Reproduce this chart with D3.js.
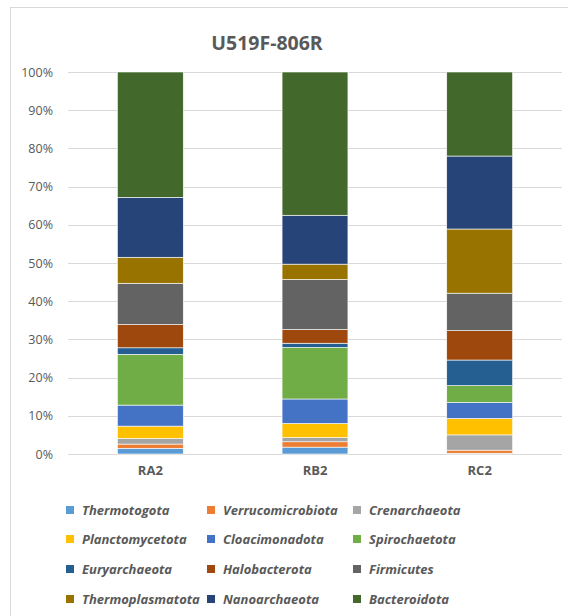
<!DOCTYPE html>
<html>
<head>
<meta charset="utf-8">
<script src="https://cdn.jsdelivr.net/npm/d3@7"></script>
<style>
  body { margin: 0; background: #fff; }
  text { font-family: "Open Sans", "Liberation Sans", sans-serif; }
</style>
</head>
<body>
<div id="chart"></div>
<script>
// data (percent of each sample)
var samples = ["RA2", "RB2", "RC2"];
var phyla = ["Thermotogota", "Verrucomicrobiota", "Crenarchaeota", "Planctomycetota",
    "Cloacimonadota", "Spirochaetota", "Euryarchaeota", "Halobacterota",
    "Firmicutes", "Thermoplasmatota", "Nanoarchaeota", "Bacteroidota"];
var colors = ["#5B9BD5", "#ED7D31", "#A5A5A5", "#FFC000", "#4472C4", "#70AD47",
    "#255E91", "#9E480E", "#636363", "#997300", "#264478", "#43682B"];
var ra2 = [1.5, 1.1, 1.5, 3.2, 5.5, 13.3, 1.7, 6.1, 10.8, 6.8, 15.7, 32.8];
var rb2 = [1.8, 1.4, 1.1, 3.7, 6.4, 13.5, 1.1, 3.6, 13.1, 4.0, 12.8, 37.5];
var rc2 = [0.2, 0.8, 4.0, 4.3, 4.2, 4.4, 6.7, 7.7, 9.8, 16.8, 19.1, 22.0];
var yTicks = [0, 10, 20, 30, 40, 50, 60, 70, 80, 90, 100];

var width = 568, height = 616;
var margin = { top: 72, right: 6, bottom: 162, left: 68 };
var plotW = width - margin.left - margin.right;
var plotH = height - margin.top - margin.bottom;

var svg = d3.select("#chart")
    .append("svg")
    .attr("width", width)
    .attr("height", height);

// chart frame
svg.append("rect")
    .attr("x", 10.5).attr("y", 7.5)
    .attr("width", 570).attr("height", 620)
    .attr("fill", "none")
    .attr("stroke", "#d9d9d9");

svg.append("text")
    .attr("x", 267).attr("y", 50)
    .attr("text-anchor", "middle")
    .attr("font-size", "19.5px")
    .attr("font-weight", "bold")
    .attr("fill", "#595959")
    .text("U519F-806R");

var g = svg.append("g")
    .attr("transform", "translate(" + margin.left + "," + margin.top + ")");

var x = d3.scaleBand().domain(samples).range([0, plotW]).paddingInner(0.6).paddingOuter(0.3);
var y = d3.scaleLinear().domain([0, 100]).range([plotH, 0]);

// gridlines
g.selectAll(".grid")
    .data(yTicks)
    .enter()
    .append("line")
    .attr("x1", 0).attr("x2", plotW)
    .attr("y1", function (d) { return Math.round(y(d)) + 0.5; })
    .attr("y2", function (d) { return Math.round(y(d)) + 0.5; })
    .attr("stroke", "#d9d9d9")
    .attr("stroke-width", 1);

var yAxis = g.append("g")
    .call(d3.axisLeft(y).tickValues(yTicks).tickSize(0).tickPadding(15)
        .tickFormat(function (d) { return d + "%"; }));
yAxis.select(".domain").remove();
yAxis.selectAll("text")
    .attr("font-size", "12.5px")
    .attr("fill", "#595959")
    .style("font-family", "'Open Sans', sans-serif");

var xAxis = g.append("g")
    .attr("transform", "translate(0," + plotH + ")")
    .call(d3.axisBottom(x).tickSize(0).tickPadding(12));
xAxis.select(".domain").remove();
xAxis.selectAll("text")
    .attr("font-size", "13px")
    .attr("font-weight", "bold")
    .attr("fill", "#595959")
    .style("font-family", "'Open Sans', sans-serif");

// stacked bars
var rows = samples.map(function (s, i) {
    var vals = [ra2, rb2, rc2][i];
    var row = { sample: s };
    phyla.forEach(function (p, j) { row[p] = vals[j]; });
    return row;
});
var series = d3.stack().keys(phyla)(rows);

g.selectAll(".layer")
    .data(series)
    .enter()
    .append("g")
    .attr("fill", function (d, i) { return colors[i]; })
    .selectAll("rect")
    .data(function (d) { return d; })
    .enter()
    .append("rect")
    .attr("x", function (d) { return x(d.data.sample); })
    .attr("y", function (d) { return y(d[1]); })
    .attr("width", x.bandwidth())
    .attr("height", function (d) { return y(d[0]) - y(d[1]); })
    .attr("stroke", "#ffffff")
    .attr("stroke-width", 0.6);

// legend
var legX = [66, 207, 353];
var legY = [510, 539, 569, 599];
var legend = svg.selectAll(".leg")
    .data(phyla)
    .enter()
    .append("g")
    .attr("transform", function (d, i) {
        return "translate(" + legX[i % 3] + "," + legY[Math.floor(i / 3)] + ")";
    });
legend.append("rect")
    .attr("x", 0).attr("y", -4)
    .attr("width", 8).attr("height", 8)
    .attr("fill", function (d, i) { return colors[i]; });
legend.append("text")
    .attr("x", 16).attr("y", 4.5)
    .attr("font-size", "13px")
    .attr("font-style", "italic")
    .attr("font-weight", "bold")
    .attr("fill", "#595959")
    .text(function (d) { return d; });
</script>
</body>
</html>
